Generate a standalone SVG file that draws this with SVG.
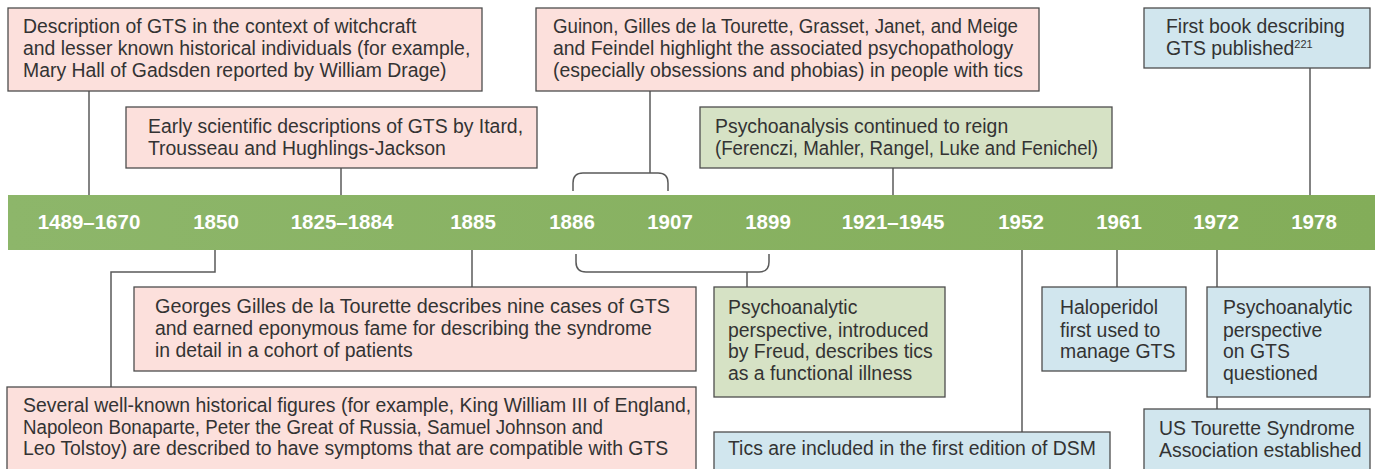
<svg xmlns="http://www.w3.org/2000/svg" width="1375" height="469" viewBox="0 0 1375 469">
<style>
.box{stroke:#4d4d4d;stroke-width:1.3}
.pink{fill:#fce0dc}
.green{fill:#d6e2c5}
.blue{fill:#d1e6ee}
.t{font-family:"Liberation Sans",Arial,sans-serif;font-size:19.4px;fill:#333}
.yr{font-family:"Liberation Sans",Arial,sans-serif;font-size:20.5px;font-weight:bold;fill:#fff;text-anchor:middle}
.ln{stroke:#5a5a5a;stroke-width:1.5;fill:none}
</style>
<defs>
<linearGradient id="bar" x1="0" x2="1" y1="0" y2="0">
<stop offset="0" stop-color="#8db66a"/>
<stop offset="1" stop-color="#83ad59"/>
</linearGradient>
</defs>
<g id="connectors">
<path class="ln" d="M89 91V195"/>
<path class="ln" d="M341 168V195"/>
<path class="ln" d="M650 91V173"/>
<path class="ln" d="M573 191V183Q573 173 583 173H658Q668 173 668 183V191"/>
<path class="ln" d="M893 168V195"/>
<path class="ln" d="M1310 68V195"/>
<path class="ln" d="M215 250V272H111V387"/>
<path class="ln" d="M472 250V287"/>
<path class="ln" d="M576 254V262Q576 272 586 272H759Q769 272 769 262V254"/>
<path class="ln" d="M747 272V287"/>
<path class="ln" d="M1022 250V432"/>
<path class="ln" d="M1117 250V287"/>
<path class="ln" d="M1217 250V287"/>
<path class="ln" d="M1217 397V409"/>
</g>
<g id="timeline">
<rect x="8" y="195" width="1367" height="55" fill="url(#bar)"/>
<text class="yr" x="89" y="229">1489–1670</text>
<text class="yr" x="216" y="229">1850</text>
<text class="yr" x="342" y="229">1825–1884</text>
<text class="yr" x="473" y="229">1885</text>
<text class="yr" x="572" y="229">1886</text>
<text class="yr" x="670" y="229">1907</text>
<text class="yr" x="768" y="229">1899</text>
<text class="yr" x="893" y="229">1921–1945</text>
<text class="yr" x="1021" y="229">1952</text>
<text class="yr" x="1119" y="229">1961</text>
<text class="yr" x="1216" y="229">1972</text>
<text class="yr" x="1314" y="229">1978</text>
</g>
<g id="n1489">
<rect class="box pink" x="8" y="8" width="474" height="83"/>
<text class="t" x="23" y="33">Description of GTS in the context of witchcraft</text>
<text class="t" x="23" y="55">and lesser known historical individuals (for example,</text>
<text class="t" x="23" y="77">Mary Hall of Gadsden reported by William Drage)</text>
</g>
<g id="n1825">
<rect class="box pink" x="126" y="107" width="411" height="61"/>
<text class="t" x="148" y="133">Early scientific descriptions of GTS by Itard,</text>
<text class="t" x="148" y="155">Trousseau and Hughlings-Jackson</text>
</g>
<g id="n1886">
<rect class="box pink" x="536" y="8" width="503" height="83"/>
<text class="t" x="553" y="33" textLength="465" lengthAdjust="spacingAndGlyphs">Guinon, Gilles de la Tourette, Grasset, Janet, and Meige</text>
<text class="t" x="553" y="55">and Feindel highlight the associated psychopathology</text>
<text class="t" x="553" y="77">(especially obsessions and phobias) in people with tics</text>
</g>
<g id="n1921">
<rect class="box green" x="700" y="107" width="412" height="61"/>
<text class="t" x="715" y="133">Psychoanalysis continued to reign</text>
<text class="t" x="715" y="155" textLength="383" lengthAdjust="spacingAndGlyphs">(Ferenczi, Mahler, Rangel, Luke and Fenichel)</text>
</g>
<g id="n1978">
<rect class="box blue" x="1144" y="8" width="226" height="60"/>
<text class="t" x="1166" y="33">First book describing</text>
<text class="t" x="1166" y="55">GTS published<tspan font-size="11" dy="-7">221</tspan></text>
</g>
<g id="n1885">
<rect class="box pink" x="134" y="287" width="562" height="84"/>
<text class="t" x="155" y="313" textLength="515" lengthAdjust="spacingAndGlyphs">Georges Gilles de la Tourette describes nine cases of GTS</text>
<text class="t" x="155" y="335">and earned eponymous fame for describing the syndrome</text>
<text class="t" x="155" y="357">in detail in a cohort of patients</text>
</g>
<g id="n1850">
<rect class="box pink" x="7" y="387" width="689" height="90"/>
<text class="t" x="23" y="412">Several well-known historical figures (for example, King William III of England,</text>
<text class="t" x="23" y="434" textLength="580" lengthAdjust="spacingAndGlyphs">Napoleon Bonaparte, Peter the Great of Russia, Samuel Johnson and</text>
<text class="t" x="23" y="455">Leo Tolstoy) are described to have symptoms that are compatible with GTS</text>
</g>
<g id="n1899">
<rect class="box green" x="714" y="287" width="231" height="110"/>
<text class="t" x="728" y="314">Psychoanalytic</text>
<text class="t" x="728" y="337">perspective, introduced</text>
<text class="t" x="728" y="358">by Freud, describes tics</text>
<text class="t" x="728" y="380">as a functional illness</text>
</g>
<g id="n1952">
<rect class="box blue" x="714" y="432" width="396" height="45"/>
<text class="t" x="728" y="455">Tics are included in the first edition of DSM</text>
</g>
<g id="n1961">
<rect class="box blue" x="1042" y="287" width="144" height="84"/>
<text class="t" x="1060" y="314">Haloperidol</text>
<text class="t" x="1060" y="337">first used to</text>
<text class="t" x="1060" y="358">manage GTS</text>
</g>
<g id="n1972a">
<rect class="box blue" x="1207" y="287" width="163" height="110"/>
<text class="t" x="1223" y="314">Psychoanalytic</text>
<text class="t" x="1223" y="337">perspective</text>
<text class="t" x="1223" y="358">on GTS</text>
<text class="t" x="1223" y="380">questioned</text>
</g>
<g id="n1972b">
<rect class="box blue" x="1144" y="409" width="226" height="68"/>
<text class="t" x="1159" y="435">US Tourette Syndrome</text>
<text class="t" x="1159" y="457">Association established</text>
</g>
</svg>
